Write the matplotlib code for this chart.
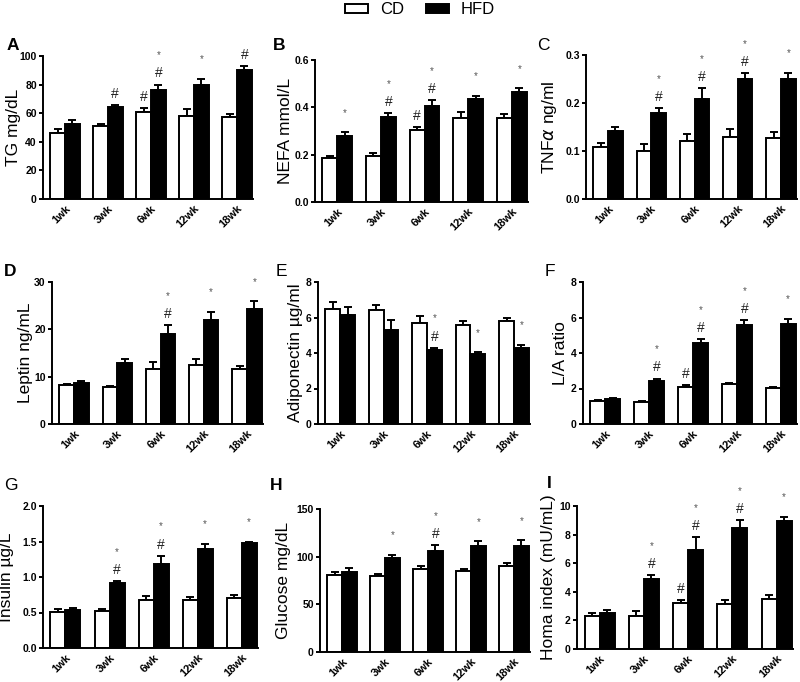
import matplotlib
matplotlib.use("Agg")
import matplotlib.pyplot as plt
from matplotlib.patches import Patch
import numpy as np

plt.rcParams['font.family'] = ['Liberation Sans', 'DejaVu Sans']

weeks = ["1wk", "3wk", "6wk", "12wk", "18wk"]

# mean and SEM per panel: CD then HFD
tg_cd = [46, 50.7, 61, 58, 57]
tg_cd_err = [2.8, 1.4, 2.8, 4.7, 2.5]
tg_hfd = [52.6, 64, 76, 80, 90]
tg_hfd_err = [2.7, 1.5, 4, 4, 3]

nefa_cd = [0.185, 0.193, 0.305, 0.354, 0.354]
nefa_cd_err = [0.008, 0.015, 0.011, 0.028, 0.017]
nefa_hfd = [0.28, 0.358, 0.406, 0.434, 0.464]
nefa_hfd_err = [0.015, 0.019, 0.024, 0.016, 0.016]

tnf_cd = [0.108, 0.100, 0.120, 0.130, 0.128]
tnf_cd_err = [0.009, 0.015, 0.015, 0.016, 0.011]
tnf_hfd = [0.142, 0.180, 0.208, 0.249, 0.251]
tnf_hfd_err = [0.007, 0.010, 0.023, 0.014, 0.012]

leptin_cd = [8.2, 7.9, 11.7, 12.4, 11.6]
leptin_cd_err = [0.3, 0.2, 1.4, 1.3, 0.7]
leptin_hfd = [8.7, 12.8, 19.0, 22.0, 24.2]
leptin_hfd_err = [0.4, 1.0, 1.9, 1.7, 1.7]

adipo_cd = [6.5, 6.4, 5.7, 5.6, 5.8]
adipo_cd_err = [0.4, 0.3, 0.4, 0.2, 0.2]
adipo_hfd = [6.15, 5.3, 4.18, 3.95, 4.29]
adipo_hfd_err = [0.42, 0.57, 0.12, 0.1, 0.17]

la_cd = [1.28, 1.24, 2.07, 2.24, 2.01]
la_cd_err = [0.06, 0.06, 0.11, 0.08, 0.08]
la_hfd = [1.41, 2.43, 4.56, 5.6, 5.65]
la_hfd_err = [0.08, 0.13, 0.22, 0.26, 0.28]

ins_cd = [0.514, 0.523, 0.678, 0.682, 0.706]
ins_cd_err = [0.033, 0.024, 0.051, 0.038, 0.046]
ins_hfd = [0.537, 0.911, 1.19, 1.40, 1.48]
ins_hfd_err = [0.033, 0.033, 0.11, 0.07, 0.02]

glu_cd = [80.8, 80.1, 86.8, 84.7, 90.3]
glu_cd_err = [3.2, 1.8, 3.8, 2.4, 3.5]
glu_hfd = [84.3, 99, 105.8, 111.4, 111.7]
glu_hfd_err = [3.9, 3.2, 6.2, 4.9, 5.3]

homa_cd = [2.28, 2.33, 3.21, 3.16, 3.47]
homa_cd_err = [0.23, 0.3, 0.23, 0.24, 0.3]
homa_hfd = [2.49, 4.88, 6.93, 8.47, 8.95]
homa_hfd_err = [0.21, 0.31, 0.88, 0.55, 0.31]

# significance marks: (week index, group, text)
marks_a = [(1, 1, "#"), (2, 0, "#"), (2, 1, "#*"), (3, 1, "*"), (4, 1, "#")]
marks_b = [(0, 1, "*"), (1, 1, "#*"), (2, 0, "#"), (2, 1, "#*"), (3, 1, "*"), (4, 1, "*")]
marks_c = [(1, 1, "#*"), (2, 1, "#*"), (3, 1, "#*"), (4, 1, "*")]
marks_d = [(2, 1, "#*"), (3, 1, "*"), (4, 1, "*")]
marks_e = [(2, 1, "#*"), (3, 1, "*"), (4, 1, "*")]
marks_f = [(1, 1, "#*"), (2, 0, "#"), (2, 1, "#*"), (3, 1, "#*"), (4, 1, "*")]
marks_g = [(1, 1, "#*"), (2, 1, "#*"), (3, 1, "*"), (4, 1, "*")]
marks_h = [(1, 1, "*"), (2, 1, "#*"), (3, 1, "*"), (4, 1, "*")]
marks_i = [(1, 1, "#*"), (2, 0, "#"), (2, 1, "#*"), (3, 1, "#*"), (4, 1, "*")]

panels = [
    # letter, bold, ylabel, ymax, ystep, fmt, data, marks,
    # (x0, x1, ytop, ybot) px, letter pos, ylabel right edge px
    ("A", True, "TG mg/dL", 100, 20, "{:.0f}", (tg_cd, tg_cd_err, tg_hfd, tg_hfd_err), marks_a, (43, 253, 56, 199), (7, 45), 21),
    ("B", True, "NEFA mmol/L", 0.6, 0.2, "{:.1f}", (nefa_cd, nefa_cd_err, nefa_hfd, nefa_hfd_err), marks_b, (315, 528, 60, 202), (273, 45), 293),
    ("C", False, "TNF$\\alpha$ ng/ml", 0.3, 0.1, "{:.1f}", (tnf_cd, tnf_cd_err, tnf_hfd, tnf_hfd_err), marks_c, (586, 797, 55, 199), (537, 45), 559),
    ("D", True, "Leptin ng/mL", 30, 10, "{:.0f}", (leptin_cd, leptin_cd_err, leptin_hfd, leptin_hfd_err), marks_d, (52, 263, 282, 424), (4, 272), 33),
    ("E", False, "Adiponectin \u00b5g/ml", 8, 2, "{:.0f}", (adipo_cd, adipo_cd_err, adipo_hfd, adipo_hfd_err), marks_e, (318, 530, 282, 424), (276, 272), 303),
    ("F", False, "L/A ratio", 8, 2, "{:.0f}", (la_cd, la_cd_err, la_hfd, la_hfd_err), marks_f, (583, 797, 282, 424), (545, 272), 568),
    ("G", False, "Insulin \u00b5g/L", 2.0, 0.5, "{:.1f}", (ins_cd, ins_cd_err, ins_hfd, ins_hfd_err), marks_g, (43, 258, 506, 648), (4, 486), 14),
    ("H", True, "Glucose mg/dL", 150, 50, "{:.0f}", (glu_cd, glu_cd_err, glu_hfd, glu_hfd_err), marks_h, (320, 530, 509, 652), (270, 486), 291),
    ("I", True, "Homa index (mU/mL)", 10, 2, "{:.0f}", (homa_cd, homa_cd_err, homa_hfd, homa_hfd_err), marks_i, (577, 793, 506, 649), (547, 483), 556),
]

W, H = 800, 682
fig = plt.figure(figsize=(W / 100, H / 100), dpi=100)

x = np.arange(len(weeks))
bw = 0.34

for letter, bold, ylabel, ymax, ystep, fmt, data, marks, box, lpos, lab_x in panels:
    x0, x1, yt, yb = box
    ax = fig.add_axes([x0 / W, 1 - yb / H, (x1 - x0) / W, (yb - yt) / H])
    cd, cd_err, hfd, hfd_err = data
    for off, vals, errs, fc in [(-bw / 2, cd, cd_err, "white"), (bw / 2, hfd, hfd_err, "black")]:
        ax.bar(x + off, vals, bw, color=fc, edgecolor="black", linewidth=1.4, zorder=2)
        ax.errorbar(x + off, vals, yerr=[np.zeros(len(vals)), errs], fmt="none",
                    ecolor="black", elinewidth=1.4, capsize=3, capthick=1.4, zorder=1)
    tops = [np.array(cd) + np.array(cd_err), np.array(hfd) + np.array(hfd_err)]
    for wi, grp, txt in marks:
        xi = x[wi] + (-bw / 2 if grp == 0 else bw / 2)
        yv = tops[grp][wi]
        if "#" in txt:
            ax.annotate("#", (xi, yv), xytext=(0, 8), textcoords="offset points",
                        ha="center", va="center", fontsize=10, color="#222222")
            if "*" in txt:
                ax.annotate("*", (xi, yv), xytext=(0, 21), textcoords="offset points",
                            ha="center", va="center", fontsize=7, color="#555555")
        else:
            ax.annotate("*", (xi, yv), xytext=(0, 14), textcoords="offset points",
                        ha="center", va="center", fontsize=7, color="#555555")
    ax.set_xlim(-0.51, 4.37)
    ax.set_ylim(0, ymax)
    yt_vals = np.arange(0, ymax + ystep / 2, ystep)
    ax.set_yticks(yt_vals)
    ax.set_yticklabels([fmt.format(v) for v in yt_vals], fontweight="bold", fontsize=7.5)
    ax.set_xticks(x)
    ax.set_xticklabels(weeks, rotation=45, ha="right", rotation_mode="anchor",
                       fontweight="bold", fontsize=8)
    ax.tick_params(axis="x", length=0, pad=3)
    ax.tick_params(axis="y", length=3, width=1.4, pad=1.5)
    for s in ["top", "right"]:
        ax.spines[s].set_visible(False)
    for s in ["left", "bottom"]:
        ax.spines[s].set_linewidth(1.4)
    ax.set_ylabel(ylabel, fontsize=12.5)
    ax.yaxis.set_label_coords((lab_x - x0) / (x1 - x0), 0.5)
    fig.text(lpos[0] / W, 1 - lpos[1] / H, letter, fontsize=12.5,
             fontweight="bold" if bold else "normal", ha="left", va="center")

handles = [Patch(facecolor="white", edgecolor="black", linewidth=1.4, label="CD"),
           Patch(facecolor="black", edgecolor="black", linewidth=1.4, label="HFD")]
fig.legend(handles=handles, loc="center", bbox_to_anchor=(0.525, 1 - 10 / H), ncol=2,
           frameon=False, fontsize=12, handlelength=1.4, handleheight=0.5,
           columnspacing=1.3, handletextpad=0.7)

fig.savefig("out.png", dpi=100)
